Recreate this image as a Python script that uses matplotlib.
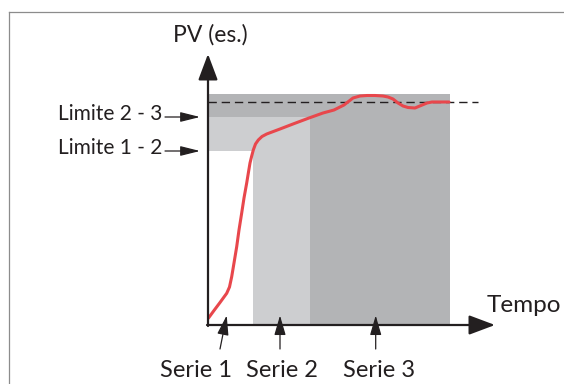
import matplotlib
matplotlib.use("Agg")
import matplotlib.pyplot as plt
from matplotlib.lines import Line2D

plt.rcParams['font.family'] = ['Lato', 'DejaVu Sans']

# ---- data (diagram units: time along x, PV along y) ----
series_edges = [0, 45, 102, 242]         # Serie 1 | Serie 2 | Serie 3 end
limit_12 = 174
limit_23 = 208
band_top = 231
setpoint = 223
t = [0.3, 6, 12, 18.7, 21.5, 23.7, 26, 28.7, 31, 33.7, 36, 38.7, 40.5, 42,
     43.7, 45.3, 47.5, 50.3, 54, 58.7, 64, 72, 85, 101, 115, 126, 136, 145,
     152, 159, 167, 175, 180, 185, 190, 195, 200, 207, 213, 219, 224, 229,
     235, 241]
pv = [6.7, 14.5, 22.5, 31.7, 38, 48.3, 62, 78.3, 95, 112, 127, 142, 153, 162,
      169, 175, 181, 185, 188.5, 191, 193, 196, 201, 207, 212, 215, 220, 227,
      229, 229.5, 229.5, 229, 228, 226, 222, 219, 217.5, 217, 219.5, 222, 223,
      223, 223, 223]
serie_labels = ["Serie 1", "Serie 2", "Serie 3"]
serie_arrow_x = [18.7, 72, 167.7]
serie_tail_x = [12, 72, 167.7]
serie_label_x = [-12, 73.6, 171]
limit_labels = ["Limite 1 - 2", "Limite 2 - 3"]
limit_values = [limit_12, limit_23]

W, H = 564, 384
fig = plt.figure(figsize=(W / 100, H / 100), dpi=100)
ax = fig.add_axes([208 / W, (H - 325) / H, 287 / W, 270 / H])
ax.set_xlim(0, 287)
ax.set_ylim(0, 270)
ax.axis('off')

dark = '#b3b4b6'
light = '#cdced0'
ink = '#231f20'
red = '#e8474c'

# shaded zones
ax.bar(series_edges[0], band_top, width=series_edges[3] - series_edges[0],
       align='edge', color=dark, linewidth=0, zorder=1)
ax.bar(series_edges[0], limit_23, width=series_edges[2] - series_edges[0],
       align='edge', color=light, linewidth=0, zorder=1.1)
ax.bar(series_edges[0], limit_12, width=series_edges[1] - series_edges[0],
       align='edge', color='white', linewidth=0, zorder=1.2)

# setpoint dashed line
ax.plot([0, 270], [setpoint, setpoint], color=ink, lw=1.0,
        dashes=(6, 3.5), zorder=2, clip_on=False)

# PV curve
ax.plot(t, pv, color=red, lw=2.2, zorder=3, solid_capstyle='round',
        solid_joinstyle='round')

# axes with arrows
big = dict(arrowstyle='-|>,head_length=1.6,head_width=0.6', lw=1.6,
           color=ink, shrinkA=0, shrinkB=0, mutation_scale=10)
ax.annotate('', xy=(0, 271), xytext=(0, -1), arrowprops=big,
            annotation_clip=False, zorder=4)
ax.annotate('', xy=(287, 0), xytext=(-1, 0), arrowprops=big,
            annotation_clip=False, zorder=4)

small = dict(arrowstyle='-|>,head_length=1.2,head_width=0.3', lw=0.9,
             color=ink, shrinkA=0, shrinkB=0, mutation_scale=10)
for lab, v in zip(limit_labels, limit_values):
    ax.annotate('', xy=(-8, v), xytext=(-43, v), arrowprops=small,
                annotation_clip=False)
    ax.text(-46, v - 2.5, lab, ha='right', va='baseline', fontsize=15,
            color=ink, clip_on=False)

bot = dict(arrowstyle='-|>,head_length=1.2,head_width=0.35', lw=0.9,
           color=ink, shrinkA=0, shrinkB=0, mutation_scale=10)
for lab, xa, xt, xl in zip(serie_labels, serie_arrow_x, serie_tail_x,
                           serie_label_x):
    ax.annotate('', xy=(xa, 9.5), xytext=(xt, -24), arrowprops=bot,
                annotation_clip=False)
    ax.text(xl, -52, lab, ha='center', va='baseline', fontsize=17,
            color=ink, clip_on=False)

ax.text(2, 283.3, "PV (es.)", ha='center', va='baseline', fontsize=16.5,
        color=ink, clip_on=False)
ax.text(279, 13.3, "Tempo", ha='left', va='baseline', fontsize=17.5,
        color=ink, clip_on=False)

# outer frame (top and left edges visible)
fig.add_artist(Line2D([9 / W, 1.0], [1 - 12 / H, 1 - 12 / H],
                      transform=fig.transFigure, color='#8c8c8c', lw=0.9))
fig.add_artist(Line2D([9 / W, 9 / W], [0, 1 - 12 / H],
                      transform=fig.transFigure, color='#8c8c8c', lw=0.9))

fig.savefig('out.png', dpi=100)
